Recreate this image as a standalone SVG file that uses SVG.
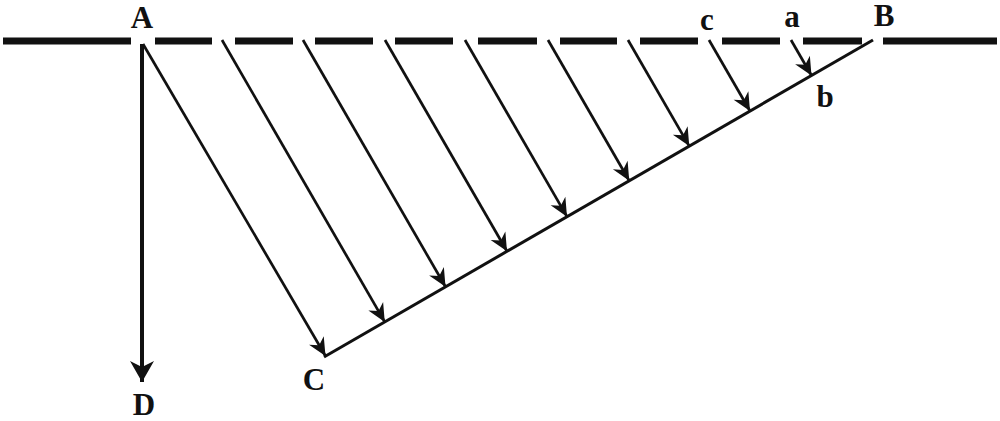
<svg xmlns="http://www.w3.org/2000/svg" width="1000" height="421" viewBox="0 0 1000 421">
<style>
.lbl{font-family:"Liberation Serif","Times New Roman",serif;font-weight:bold;font-size:31px;fill:#111;text-anchor:middle}
.ground{stroke:#111;stroke-width:7;fill:none}
.arr{stroke:#111;stroke-width:2.7;fill:none}
.base{stroke:#111;stroke-width:3;fill:none}
</style>
<defs>
<marker id="ah" markerUnits="userSpaceOnUse" viewBox="-19 -10 20 20" refX="0" refY="0" markerWidth="20" markerHeight="20" orient="auto">
<path d="M0,0 L-18,-8.5 L-12.5,0 L-18,8.5 Z" fill="#111"/>
</marker>
<marker id="ahBig" markerUnits="userSpaceOnUse" viewBox="-22 -13 23 26" refX="0" refY="0" markerWidth="23" markerHeight="26" orient="auto">
<path d="M0,0 L-21,-12 L-15,0 L-21,12 Z" fill="#111"/>
</marker>
</defs>
<rect width="1000" height="421" fill="#fff"/>
<g id="ground">
<path class="ground" d="M3,41H131 M155,41H212 M235,41H293 M315,41H373 M395,41H453 M478,41H537 M560,41H617 M640,41H698 M722,41H780 M803,41H862 M883,41H997"/>
</g>
<g id="connectors">
<line id="BC" class="base" x1="873" y1="40" x2="324" y2="357"/>
<line id="AD" x1="142" y1="44" x2="142" y2="382" stroke="#111" stroke-width="4" marker-end="url(#ahBig)"/>
<line class="arr" x1="143" y1="44" x2="325.5" y2="356" marker-end="url(#ah)"/>
<line class="arr" x1="222" y1="40" x2="384.75" y2="321.9" marker-end="url(#ah)"/>
<line class="arr" x1="303" y1="40" x2="445.5" y2="286.8" marker-end="url(#ah)"/>
<line class="arr" x1="385" y1="40" x2="507" y2="251.3" marker-end="url(#ah)"/>
<line class="arr" x1="465" y1="40" x2="567" y2="216.7" marker-end="url(#ah)"/>
<line class="arr" x1="548" y1="40" x2="629.25" y2="180.7" marker-end="url(#ah)"/>
<line class="arr" x1="628" y1="40" x2="689.25" y2="146.1" marker-end="url(#ah)"/>
<line class="arr" x1="709" y1="40" x2="750" y2="111" marker-end="url(#ah)"/>
<line class="arr" x1="791" y1="40" x2="811.5" y2="75.5" marker-end="url(#ah)"/>
</g>
<g id="A"><text class="lbl" x="142" y="28">A</text></g>
<g id="B"><text class="lbl" x="884" y="26">B</text></g>
<g id="C"><text class="lbl" x="314" y="390">C</text></g>
<g id="D"><text class="lbl" x="144" y="415">D</text></g>
<g id="a"><text class="lbl" x="792" y="27">a</text></g>
<g id="b"><text class="lbl" x="825" y="107">b</text></g>
<g id="c"><text class="lbl" x="707" y="30">c</text></g>
</svg>
